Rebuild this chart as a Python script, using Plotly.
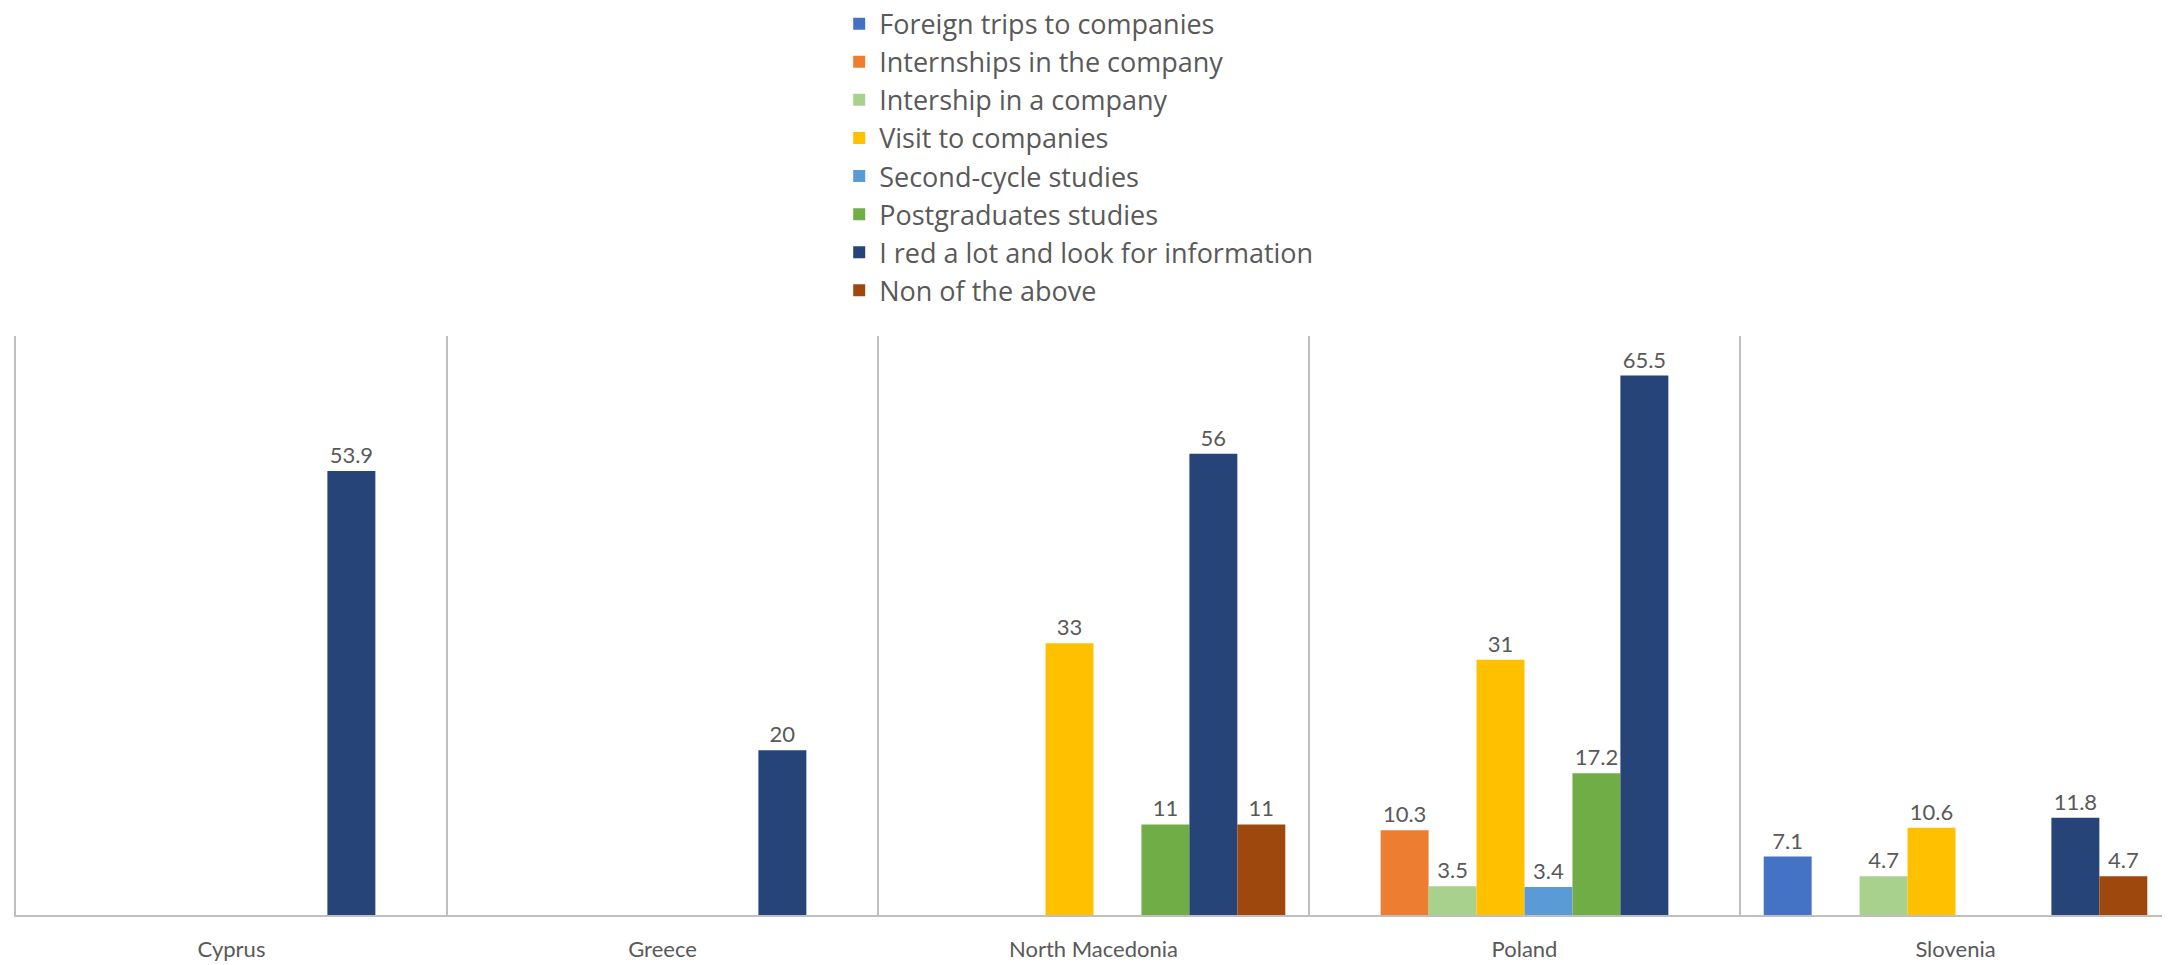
import plotly.graph_objects as go

countries = ["Cyprus", "Greece", "North Macedonia", "Poland", "Slovenia"]

series_names = [
    "Foreign trips to companies",
    "Internships in the company",
    "Intership in a company",
    "Visit to companies",
    "Second-cycle studies",
    "Postgraduates studies",
    "I red a lot and look for information",
    "Non of the above",
]

foreign_trips = [None, None, None, None, 7.1]
internships_company = [None, None, None, 10.3, None]
intership_a_company = [None, None, None, 3.5, 4.7]
visit_companies = [None, None, 33, 31, 10.6]
second_cycle = [None, None, None, 3.4, None]
postgraduates = [None, None, 11, 17.2, None]
read_a_lot = [53.9, 20, 56, 65.5, 11.8]
none_above = [None, None, 11, None, 4.7]

values = [foreign_trips, internships_company, intership_a_company, visit_companies,
          second_cycle, postgraduates, read_a_lot, none_above]

colors = ["#4472C4", "#ED7D31", "#A9D18E", "#FFC000", "#5B9BD5", "#70AD47", "#264478", "#9E480E"]

fig = go.Figure()
for name, vals, col in zip(series_names, values, colors):
    fig.add_trace(go.Bar(
        name=name, x=countries, y=vals,
        marker=dict(color=col, line=dict(width=0)),
        text=[("" if v is None else f"{v:g}") for v in vals],
        textposition="outside",
        constraintext="none",
        cliponaxis=False,
        textfont=dict(family="Lato", size=22, color="#595959"),
    ))

fig.update_layout(
    width=2163, height=957,
    barmode="group", bargap=0.11, bargroupgap=0,
    plot_bgcolor="white", paper_bgcolor="white",
    margin=dict(l=8, r=0, t=328, b=50, autoexpand=False),
    uniformtext=dict(minsize=22, mode="show"),
    font=dict(family="Lato", color="#595959"),
    legend=dict(
        x=0.382, xanchor="left", y=1.581, yanchor="top",
        orientation="v",
        font=dict(family="Open Sans", size=27, color="#595959"),
        bgcolor="rgba(0,0,0,0)",
    ),
    xaxis=dict(
        showgrid=True, gridcolor="#BFBFBF", gridwidth=2,
        tickson="boundaries", ticks="",
        showline=True, linecolor="#BFBFBF", linewidth=2,
        tickfont=dict(family="Lato", size=22, color="#595959"),
        ticklabelstandoff=14,
    ),
    yaxis=dict(range=[0, 70.3], showticklabels=False, ticks="", showgrid=False,
               zeroline=False, showline=True, linecolor="#BFBFBF", linewidth=2),
)

fig.write_html("out.html")
